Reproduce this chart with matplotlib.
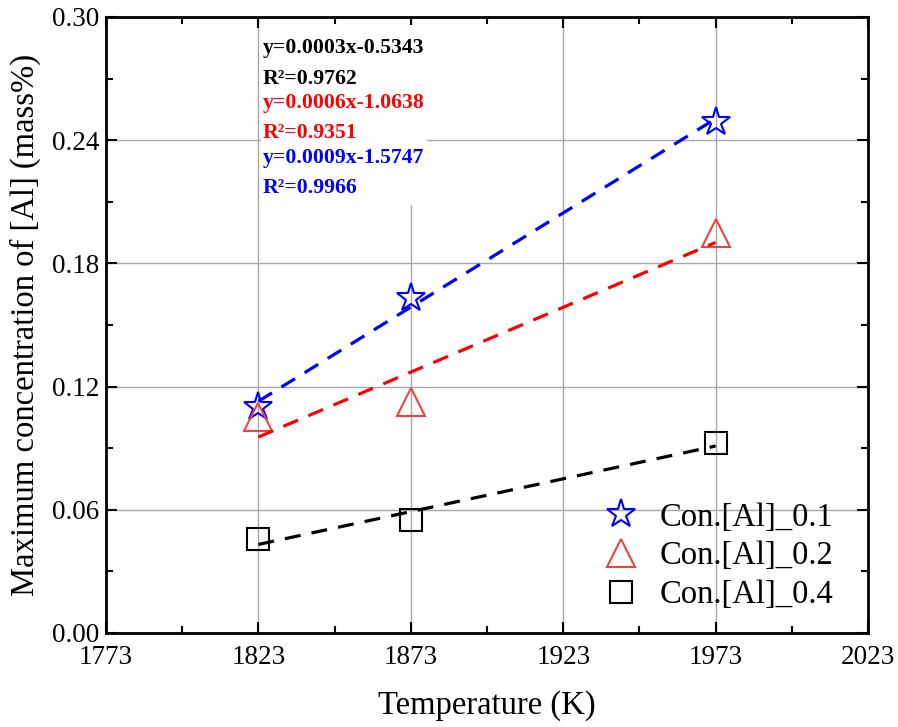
import numpy as np
import matplotlib
matplotlib.use("Agg")
import matplotlib.pyplot as plt
from matplotlib.patches import Rectangle

plt.rcParams['font.family'] = ['Liberation Serif', 'DejaVu Serif']

temps = [1823, 1873, 1973]
al_01 = [0.110, 0.163, 0.249]
al_02 = [0.105, 0.1127, 0.195]
al_04 = [0.046, 0.0548, 0.0925]
labels = ['Con.[Al]_0.1', 'Con.[Al]_0.2', 'Con.[Al]_0.4']
eq_texts = ['y=0.0003x-0.5343', 'R²=0.9762',
            'y=0.0006x-1.0638', 'R²=0.9351',
            'y=0.0009x-1.5747', 'R²=0.9966']
eq_colors = ['black', 'black', '#ff0000', '#ff0000', '#0000ff', '#0000ff']
xticks = [1773, 1823, 1873, 1923, 1973, 2023]
yticks = [0.00, 0.06, 0.12, 0.18, 0.24, 0.30]

fig = plt.figure(figsize=(8.98, 7.27), dpi=100)
ax = fig.add_axes([106/898, 1-633/727, 762/898, 616/727])

ax.set_xlim(1773, 2023)
ax.set_ylim(0, 0.30)
ax.set_xticks(xticks)
ax.set_yticks(yticks)
ax.set_xticklabels([str(t) for t in xticks])
ax.set_yticklabels(['%.2f' % v for v in yticks])
ax.set_xticks([1798, 1848, 1898, 1948, 1998], minor=True)
ax.set_yticks([0.03, 0.09, 0.15, 0.21, 0.27], minor=True)
ax.tick_params(which='both', direction='in', top=True, right=True,
               labeltop=False, labelright=False, width=1.5)
ax.tick_params(which='major', length=8, labelsize=19.5)
ax.tick_params(axis='x', which='major', pad=9)
ax.tick_params(axis='y', which='major', pad=5)
ax.tick_params(which='minor', length=5)
for s in ax.spines.values():
    s.set_linewidth(2)
ax.grid(True, which='major', color='#a8a8a8', linewidth=1.0, zorder=0)
ax.set_axisbelow(True)

ms_kw = dict(linestyle='none', markerfacecolor='none', markeredgewidth=1.5)
ax.plot(temps, al_01, marker='*', markersize=21, markeredgecolor='#0000ff',
        label=labels[0], zorder=3, **ms_kw)
ax.plot(temps, al_02, marker='^', markersize=20, markeredgecolor='#f04040',
        label=labels[1], zorder=3, **ms_kw)
ax.plot(temps, al_04, marker='s', markersize=15.5, markeredgecolor='black',
        label=labels[2], zorder=3, **ms_kw)

xs = np.array([temps[0], temps[-1]], dtype=float)
for ys, col in [(al_01, '#0000ff'), (al_02, '#ff0000'), (al_04, 'black')]:
    k, b = np.polyfit(temps, ys, 1)
    ax.plot(xs, k * xs + b, color=col, linewidth=2.3,
            linestyle=(0, (5, 3.5)), zorder=4)

# white box behind equations
ax.add_patch(Rectangle((0.2034, 0.695), 0.218, 0.292, transform=ax.transAxes,
                       facecolor='white', edgecolor='none', zorder=1))
ys_px = [48, 79, 103, 133, 158, 188]
for t, c, ypx in zip(eq_texts, eq_colors, ys_px):
    ax.text((263-106)/762, (633-ypx)/616, t, color=c, fontsize=15.7,
            fontweight='bold', transform=ax.transAxes, ha='left', va='center',
            zorder=2)

ax.set_xlabel('Temperature (K)', fontsize=23.5, labelpad=14)
ax.set_ylabel('Maximum concentration of [Al] (mass%)', fontsize=23.5, labelpad=8)

ax.legend(loc='lower right', bbox_to_anchor=(0.985, 0.0), frameon=False,
          fontsize=23.5, handlelength=1.2, handletextpad=0.6,
          labelspacing=0.25, borderaxespad=0.3)

fig.savefig('out.png', dpi=100)
